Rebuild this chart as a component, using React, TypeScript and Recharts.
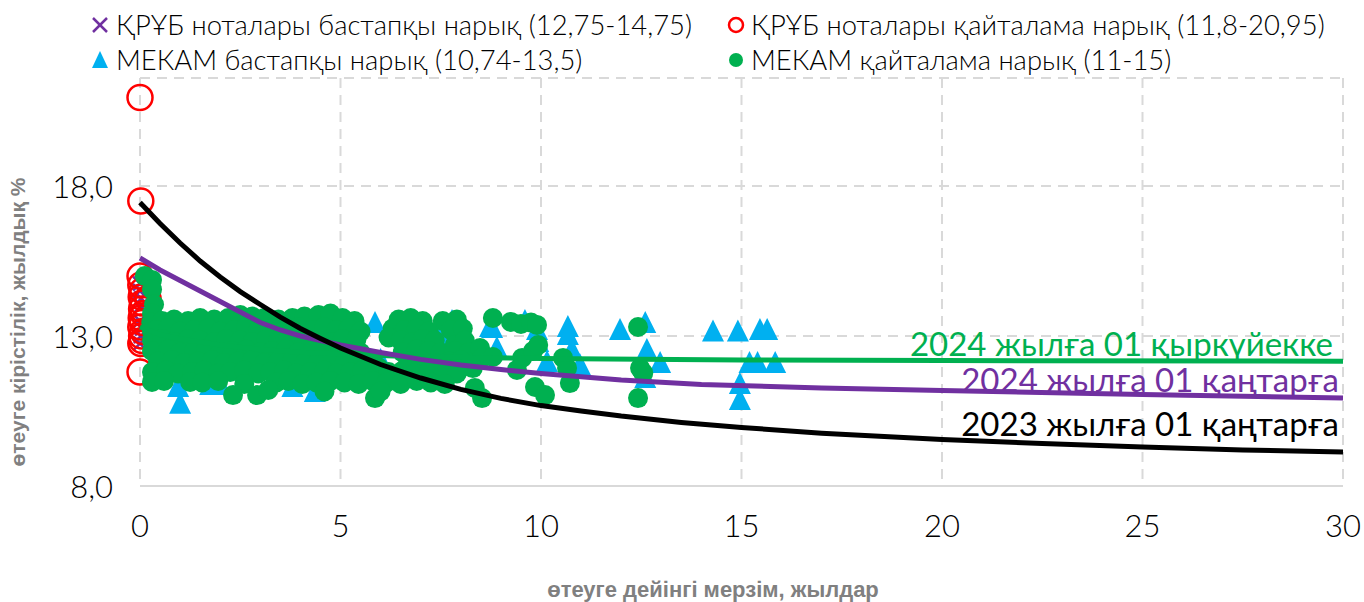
import React from 'react';
import { ComposedChart, Scatter, XAxis, YAxis, CartesianGrid } from 'recharts';

const FONT = 'Lato, "Noto Sans", sans-serif';

const xTicks = [0, 5, 10, 15, 20, 25, 30];
const yTicks = [8, 13, 18];

// ҚРҰБ ноталары бастапқы нарық (12,75-14,75)
const notesPrimary = [
  [0, 14.75], [0, 14.5], [0.02, 14.0], [0, 13.5], [0.02, 13.0], [0, 12.75], [0.05, 13.25], [0.03, 14.25],
];

// ҚРҰБ ноталары қайталама нарық (11,8-20,95)
const notesSecondary = [
  [0, 20.95], [0.02, 17.5], [0, 15.0], [0.02, 14.7], [0.05, 14.5], [0.03, 14.3], [0.2, 14.25], [0.06, 14.1],
  [0.04, 13.9], [0.08, 13.75], [0.03, 13.6], [0.06, 13.45], [0.02, 13.3], [0.07, 13.15], [0.04, 13.0],
  [0.05, 12.85], [0.02, 12.75], [0, 11.8],
];

// МЕКАМ бастапқы нарық (10,74-13,5)
const mekamPrimary = [
  [0.95, 11.3], [1.0, 10.74], [1.75, 11.37], [2.0, 11.37], [3.0, 13.5], [3.8, 11.3], [4.36, 11.13], [4.5, 11.3],
  [5.86, 13.43], [6.36, 13.05], [6.4, 13.2], [6.73, 13.5], [7.48, 12.93], [7.7, 12.77], [7.78, 13.5],
  [8.73, 13.3], [8.78, 13.27], [8.9, 12.6], [9.6, 13.5], [9.9, 13.2], [9.93, 12.8], [10.15, 12.13],
  [10.67, 13.3], [10.67, 13.03], [10.77, 12.53], [10.97, 12.03], [11.97, 13.2], [12.6, 13.43],
  [12.64, 12.53], [12.97, 12.1], [12.6, 11.6], [14.29, 13.15], [14.91, 13.15], [15.46, 13.2],
  [15.64, 13.2], [15.2, 12.1], [15.4, 12.1], [15.84, 12.1], [14.96, 11.4], [14.96, 10.87],
  [1.5, 12.5], [3.0, 12.0], [4.5, 12.8], [6.0, 12.2],
];

// МЕКАМ қайталама нарық (11-15)
const mekamSecondary = [
  [0.12, 15.0], [0.3, 14.87], [0.3, 14.55], [0.35, 14.05], [0.3, 13.75], [0.28, 13.45], [0.3, 13.15],
  [0.55, 13.5], [0.85, 13.55], [1.2, 13.5], [1.5, 13.6], [1.85, 13.55], [2.2, 13.6], [2.5, 13.7], [2.8, 13.65],
  [3.1, 13.6], [3.45, 13.55], [3.8, 13.6], [4.1, 13.65], [4.45, 13.7], [4.75, 13.75], [5.05, 13.6], [5.35, 13.5],
  [6.45, 13.55], [6.75, 13.6], [7.05, 13.5], [7.55, 13.5], [7.9, 13.55], [8.8, 13.6], [9.25, 13.47],
  [9.5, 13.4], [9.75, 13.45], [9.9, 13.37],
  [0.4, 13.2], [0.7, 13.25], [1.0, 13.15], [1.35, 13.2], [1.7, 13.25], [2.0, 13.15], [2.35, 13.2], [2.65, 13.3],
  [2.95, 13.2], [3.3, 13.25], [3.6, 13.15], [3.95, 13.3], [4.3, 13.2], [4.6, 13.3], [4.9, 13.2], [5.2, 13.25],
  [5.5, 13.15], [6.3, 13.25], [6.6, 13.2], [6.9, 13.25], [7.2, 13.15], [7.75, 13.2], [8.05, 13.25],
  [0.3, 12.85], [0.55, 12.9], [0.85, 12.8], [1.2, 12.9], [1.5, 12.85], [1.85, 12.8], [2.15, 12.9], [2.5, 12.85],
  [2.8, 12.8], [3.15, 12.9], [3.45, 12.85], [3.8, 12.8], [4.1, 12.9], [4.45, 12.85], [4.75, 12.8], [5.05, 12.9],
  [5.4, 12.9], [6.2, 12.95], [6.5, 12.85], [6.8, 12.8], [7.05, 12.9], [7.35, 12.85], [7.85, 12.7], [8.1, 12.85],
  [0.3, 12.5], [0.7, 12.55], [1.0, 12.45], [1.35, 12.5], [1.65, 12.55], [2.0, 12.45], [2.3, 12.5], [2.65, 12.55],
  [3.0, 12.45], [3.3, 12.5], [3.65, 12.55], [3.95, 12.45], [4.3, 12.5], [4.6, 12.55], [4.95, 12.45],
  [5.25, 12.5], [5.5, 12.45], [6.55, 12.45], [6.9, 12.55], [7.2, 12.5], [7.5, 12.45], [7.85, 12.5],
  [8.2, 12.45], [8.48, 12.6],
  [0.45, 12.15], [0.8, 12.2], [1.1, 12.1], [1.45, 12.15], [1.8, 12.2], [2.1, 12.1], [2.45, 12.15], [2.8, 12.2],
  [3.1, 12.1], [3.45, 12.15], [3.8, 12.2], [4.1, 12.1], [4.45, 12.15], [4.8, 12.2], [5.1, 12.1], [5.45, 12.15],
  [5.8, 12.2], [5.95, 11.95], [6.7, 12.15], [7.0, 12.2], [7.35, 12.1], [7.7, 12.15], [8.0, 12.2], [8.53, 12.27],
  [8.8, 12.3], [9.53, 12.27], [9.8, 12.5], [9.93, 12.7],
  [0.3, 11.8], [0.65, 11.85], [0.95, 11.75], [1.3, 11.8], [1.6, 11.85], [1.95, 11.75], [2.25, 11.8],
  [2.6, 11.85], [2.95, 11.75], [3.25, 11.8], [3.6, 11.85], [3.9, 11.75], [4.25, 11.8], [4.6, 11.85],
  [4.9, 11.75], [5.25, 11.8], [5.55, 11.85], [6.2, 11.8], [6.55, 11.85], [6.85, 11.75], [7.2, 11.8],
  [7.55, 11.85], [7.9, 11.75], [8.3, 11.93], [9.4, 11.87], [10.55, 12.27], [10.65, 11.93],
  [0.3, 11.47], [0.6, 11.5], [1.25, 11.47], [1.55, 11.45], [1.95, 11.5], [2.6, 11.4], [3.4, 11.45],
  [3.7, 11.5], [4.05, 11.4], [4.4, 11.45], [4.75, 11.5], [5.1, 11.45], [5.45, 11.4], [5.8, 11.5],
  [6.15, 11.45], [6.5, 11.4], [6.9, 11.5], [7.25, 11.45], [7.6, 11.4], [8.35, 11.27], [9.85, 11.3], [10.72, 11.43],
  [2.32, 11.03], [2.92, 11.03], [3.2, 11.2], [5.86, 10.93], [6.0, 11.15], [8.53, 10.93], [10.1, 11.03], [4.6, 11.15],
  [12.42, 13.3], [12.47, 11.93], [12.55, 11.77], [12.42, 10.93],
];

// fitted yield curves
const curve2023 = [
  [0, 17.45], [0.25, 17.1], [0.5, 16.75], [1, 16.1], [1.5, 15.5], [2, 14.97], [2.5, 14.48], [3, 14.05], [3.5, 13.63],
  [4, 13.25], [4.5, 12.92], [5, 12.6], [6, 12.05], [7, 11.6], [8, 11.22], [9, 10.92], [10, 10.68], [11, 10.5],
  [12, 10.33], [13.5, 10.12], [15, 9.95], [17, 9.76], [20, 9.55], [22.5, 9.42], [25, 9.3], [27.5, 9.2], [30, 9.13],
];
const curve2024Jan = [
  [0, 15.6], [0.5, 15.2], [1, 14.85], [1.5, 14.5], [2, 14.15], [2.5, 13.8], [3, 13.45], [3.5, 13.2], [4, 13.0],
  [4.5, 12.85], [5, 12.7], [6, 12.45], [7, 12.22], [8, 12.03], [9, 11.88], [10, 11.75], [12, 11.53], [14, 11.38],
  [17, 11.27], [20, 11.18], [25, 11.05], [30, 10.93],
];
const curve2024Sep = [
  [0, 13.3], [0.5, 13.05], [1, 12.9], [2, 12.7], [3, 12.55], [4, 12.46], [5, 12.4], [7, 12.3], [10, 12.25],
  [15, 12.2], [20, 12.18], [30, 12.16],
];

const pts = (arr: number[][]) => arr.map(([x, y]) => ({ x, y }));

const CrossShape = (p: any) => {
  const s = 7;
  return (
    <g stroke="#7030a0" strokeWidth={2.5}>
      <line x1={p.cx - s} y1={p.cy - s} x2={p.cx + s} y2={p.cy + s} />
      <line x1={p.cx - s} y1={p.cy + s} x2={p.cx + s} y2={p.cy - s} />
    </g>
  );
};
const RingShape = (p: any) => (
  <circle cx={p.cx} cy={p.cy} r={12.5} fill="none" stroke="#ff0000" strokeWidth={2.5} />
);
const TriShape = (p: any) => (
  <path d={`M${p.cx},${p.cy - 12} L${p.cx + 11},${p.cy + 10} L${p.cx - 11},${p.cy + 10} Z`} fill="#00b0f0" />
);
const DotShape = (p: any) => <circle cx={p.cx} cy={p.cy} r={10} fill="#00b050" />;
const NoShape = () => <g />;

// tick labels: y labels end at x=113, x labels centred 39px under the axis
const YTick = (p: any) => (
  <text x={113} y={p.y} textAnchor="end" dominantBaseline="central" fill="#000" fontSize={31} fontFamily={FONT} fontWeight={300}>
    {Number(p.payload.value).toFixed(1).replace('.', ',')}
  </text>
);
const XTick = (p: any) => (
  <text x={p.x} y={p.y + 39} textAnchor="middle" dominantBaseline="central" fill="#000" fontSize={31} fontFamily={FONT} fontWeight={300}>
    {p.payload.value}
  </text>
);

const legendText: React.CSSProperties = {
  position: 'absolute', fontFamily: FONT, fontWeight: 300, fontSize: 27.4, color: '#000', whiteSpace: 'nowrap', lineHeight: '32px',
};
const curveLabel: React.CSSProperties = {
  position: 'absolute', fontFamily: FONT, fontSize: 33, whiteSpace: 'nowrap', lineHeight: '33px',
};
const titleStyle: React.CSSProperties = {
  position: 'absolute', fontFamily: '"Liberation Sans", Arial, sans-serif', fontWeight: 700, color: '#808080', whiteSpace: 'nowrap',
};

export default function App() {
  return (
    <div style={{ position: 'absolute', left: 0, top: 0, width: 1364, height: 602, background: '#fff' }}>
      <ComposedChart width={1364} height={602} margin={{ top: 78, right: 21, bottom: 66, left: 0 }}>
        <CartesianGrid stroke="#d9d9d9" strokeWidth={2} strokeDasharray="10 7" />
        <XAxis
          type="number"
          dataKey="x"
          domain={[0, 30]}
          ticks={xTicks}
          height={50}
          axisLine={{ stroke: '#d9d9d9', strokeWidth: 2 }}
          tickLine={false}
          tickSize={0}
          tickMargin={0}
          tick={XTick}
        />
        <YAxis
          type="number"
          dataKey="y"
          domain={[8, 21.6]}
          ticks={yTicks}
          width={140}
          axisLine={false}
          tickLine={false}
          tickSize={0}
          tick={YTick}
        />
        <Scatter data={pts(notesPrimary)} dataKey="y" shape={CrossShape} isAnimationActive={false} />
        <Scatter data={pts(notesSecondary)} dataKey="y" shape={RingShape} isAnimationActive={false} />
        <Scatter data={pts(mekamPrimary)} dataKey="y" shape={TriShape} isAnimationActive={false} />
        <Scatter data={pts(mekamSecondary)} dataKey="y" shape={DotShape} isAnimationActive={false} />
        <Scatter
          data={pts(curve2024Sep)}
          dataKey="y"
          shape={NoShape}
          line={{ stroke: '#00b050', strokeWidth: 5 }}
          lineType="joint"
          isAnimationActive={false}
        />
        <Scatter
          data={pts(curve2024Jan)}
          dataKey="y"
          shape={NoShape}
          line={{ stroke: '#7030a0', strokeWidth: 5 }}
          lineType="joint"
          isAnimationActive={false}
        />
        <Scatter
          data={pts(curve2023)}
          dataKey="y"
          shape={NoShape}
          line={{ stroke: '#000000', strokeWidth: 5 }}
          lineType="joint"
          isAnimationActive={false}
        />
      </ComposedChart>

      {/* legend */}
      <svg style={{ position: 'absolute', left: 0, top: 0 }} width={1364} height={80}>
        <g stroke="#7030a0" strokeWidth={2.5}>
          <line x1={93} y1={18} x2={107} y2={32} />
          <line x1={93} y1={32} x2={107} y2={18} />
        </g>
        <path d="M100,51 L108,68 L92,68 Z" fill="#00b0f0" />
        <circle cx={736} cy={25} r={7} fill="none" stroke="#ff0000" strokeWidth={2.5} />
        <circle cx={736} cy={60} r={7} fill="#00b050" />
      </svg>
      <div style={{ ...legendText, left: 116, top: 9 }}>ҚРҰБ ноталары бастапқы нарық (12,75-14,75)</div>
      <div style={{ ...legendText, left: 116, top: 44 }}>МЕКАМ бастапқы нарық (10,74-13,5)</div>
      <div style={{ ...legendText, left: 751, top: 9 }}>ҚРҰБ ноталары қайталама нарық (11,8-20,95)</div>
      <div style={{ ...legendText, left: 751, top: 44 }}>МЕКАМ қайталама нарық (11-15)</div>

      {/* curve labels */}
      <div style={{ ...curveLabel, right: 31, top: 327, color: '#00b050' }}>2024 жылға 01 қыркүйекке</div>
      <div style={{ ...curveLabel, right: 25, top: 363, color: '#7030a0' }}>2024 жылға 01 қаңтарға</div>
      <div style={{ ...curveLabel, right: 25, top: 407, color: '#000' }}>2023 жылға 01 қаңтарға</div>

      {/* axis titles */}
      <div style={{ ...titleStyle, fontSize: 21, left: 18, top: 322, transform: 'translate(-50%, -50%) rotate(-90deg)' }}>
        өтеуге кірістілік, жылдық %
      </div>
      <div style={{ ...titleStyle, fontSize: 22, left: 713, top: 590, transform: 'translate(-50%, -50%)' }}>
        өтеуге дейінгі мерзім, жылдар
      </div>
    </div>
  );
}
